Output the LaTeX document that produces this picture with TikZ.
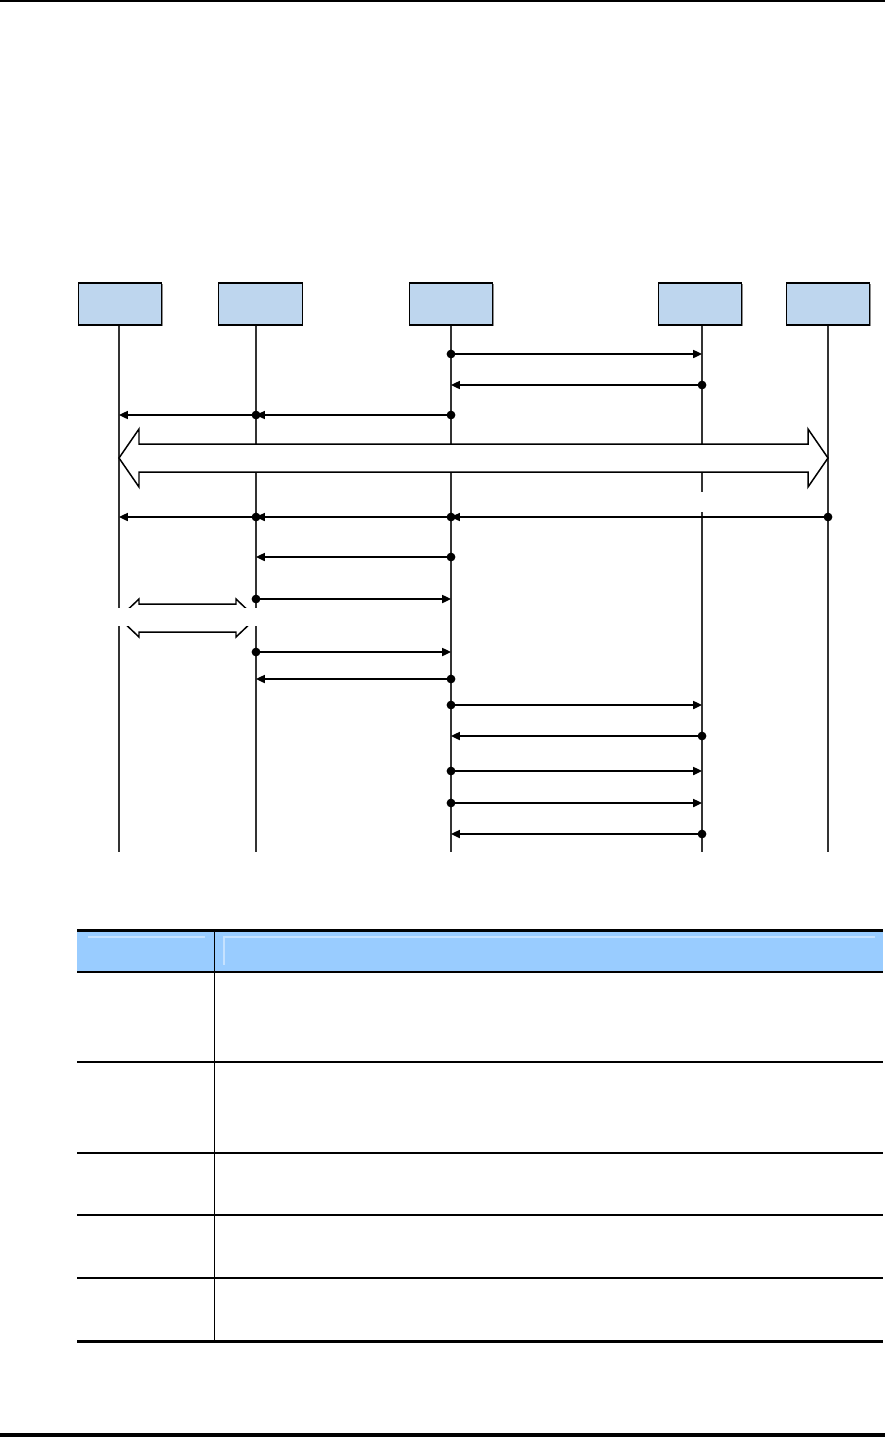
\documentclass[tikz,border=0pt]{standalone}
\usepackage{tikz}
\usepackage{xcolor}
\usetikzlibrary{arrows.meta, shadows}
\definecolor{headblue}{HTML}{BED6EE}
\definecolor{tablehead}{HTML}{99CCFF}
\definecolor{tableshine}{HTML}{C6E2FF}

\begin{document}
\begin{tikzpicture}[x=0.02cm, y=-0.02cm,
  head/.style={draw=black, line width=0.6pt, fill=headblue, minimum width=1.67cm, minimum height=0.84cm, inner sep=0pt,
    drop shadow={shadow xshift=0.7pt, shadow yshift=-0.7pt, fill=black!45, opacity=1}},
  life/.style={draw=black!80, line width=1.1pt},
  msg/.style={draw=black, line width=0.8pt, -{Triangle[length=5pt,width=4.6pt]}},
  blockarrow/.style={draw=black, line width=0.85pt, fill=white, line join=miter},
  rule/.style={line width=1pt}]
  \useasboundingbox (0,0) rectangle (885,1437);

  % page rules
  \fill (0,0) rectangle (885,2);
  \fill (0,1433) rectangle (885,1437);

  % heads and lifelines
  \node[head] (h1) at (120,304) {};
  \node[head] (h2) at (260.5,304) {};
  \node[head] (h3) at (451,304) {};
  \node[head] (h4) at (700,304) {};
  \node[head] (h5) at (828,304) {};
  \foreach \n/\x in {1/119,2/256,3/451,4/702,5/828} {
    \coordinate (t\n) at (h\n.south -| \x,0);
    \coordinate (b\n) at (\x,852);
    \draw[life] (t\n) -- (b\n);
  }
  \fill[white] (695,492) rectangle (709,512);

  % wide exchange between all
  \draw[blockarrow] (t1 |- 0,458) -- (139,429) -- (139,444) -- (808,444) -- (808,429)
    -- (t5 |- 0,458) -- (808,487) -- (808,472) -- (139,472) -- (139,487) -- cycle;

  % messages
  \foreach \y/\a/\b in {354/3/4, 385/4/3, 415/3/2, 415/2/1, 517/5/3, 517/3/2, 517/2/1, 557/3/2,
      599/2/3, 652/2/3, 679/3/2, 705/3/4, 736/4/3, 771/3/4, 803/3/4, 834/4/3}
    \draw[msg] (t\a |- 0,\y) -- (t\b |- 0,\y);
  \foreach \y/\a in {354/3, 385/4, 415/3, 415/2, 517/5, 517/3, 517/2, 557/3,
      599/2, 652/2, 679/3, 705/3, 736/4, 771/3, 803/3, 834/4}
    \fill (t\a |- 0,\y) circle (2.5pt);

  % short exchange between first two
  \draw[blockarrow] (t1 |- 0,618) -- (139,599) -- (139,604) -- (236,604) -- (236,599)
    -- (t2 |- 0,618) -- (236,637) -- (236,632) -- (139,632) -- (139,637) -- cycle;
  \fill[white] (110,608) rectangle (263,626);

  % table
  \fill[tablehead] (77,932) rectangle (883,971);
  \draw[tableshine, line width=0.6pt] (88,937) -- (205,937);
  \draw[tableshine, line width=0.6pt] (224,965) -- (224,937) -- (875,937);
  \draw[line width=1.7pt] (77,930.5) -- (883,930.5);
  \foreach \y in {972,1062,1153,1215,1278}
    \draw[rule] (77,\y) -- (883,\y);
  \draw[line width=1.7pt] (77,1341.5) -- (883,1341.5);
  \draw[line width=0.8pt] (214.5,932) -- (214.5,1341);
\end{tikzpicture}
\end{document}
